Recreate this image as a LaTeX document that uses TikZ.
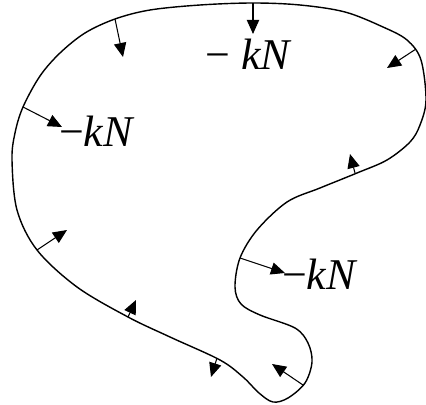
\documentclass[tikz,border=0pt]{standalone}
\usepackage{fontspec}
\setmainfont{Liberation Serif}[ItalicFont={Liberation Serif Italic}]
\usepackage{tikz}
\usetikzlibrary{arrows.meta}

\begin{document}
\begin{tikzpicture}[x=0.02cm,y=-0.02cm,>={Triangle[length=8pt,width=7pt]},
    lbl/.style={anchor=base,inner sep=0pt,font=\fontsize{25}{28}\selectfont}]
  \useasboundingbox (0,0) rectangle (426,405);
  % boundary curve
  \draw[line width=0.8pt] plot[smooth cycle,tension=0.55] coordinates {
    (253,3) (300,5) (345,12) (383,27) (407,40) (421,60) (426,100)
    (420,125) (410,142) (387,160) (357,173) (320,188) (287,202)
    (257,230) (240,258) (235,287) (241,304) (260,315) (295,328)
    (308,343) (312,362) (305,383) (288,398) (273,402) (259,393)
    (243,377) (220,360) (170,337) (128,317) (77,287) (37,250)
    (17,210) (12,160) (15,133) (23,107) (40,76) (60,53) (85,33)
    (115,19) (150,10) (200,5)};
  % normal arrows
  \foreach \bx/\by/\tx/\ty in {253/3/253/34, 115/19/123/57, 416/49/387/68,
      23/107/62/127, 355/173/350/154, 37/250/67/230, 240/258/285/273,
      128/317/136/300, 217/358/211/377, 303/385/272/364}
    {\coordinate (b) at (\bx,\by); \coordinate (t) at (\tx,\ty);
     \draw[->,line width=0.6pt] (b) -- (t);}
  \node[lbl] (lblTop) at (249,70) {− \textit{kN}};
  \node[lbl] (lblLeft) at (97,147) {−\textit{kN}};
  \node[lbl] (lblRight) at (320,290) {−\textit{kN}};
\end{tikzpicture}
\end{document}
